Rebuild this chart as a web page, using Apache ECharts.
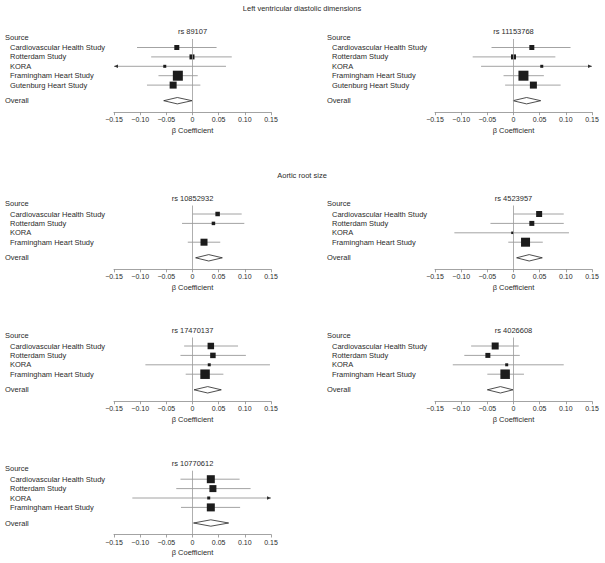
<!DOCTYPE html>
<html>
<head>
<meta charset="utf-8">
<script src="https://cdn.jsdelivr.net/npm/echarts@6/dist/echarts.min.js"></script>
<style>
  html, body { margin: 0; padding: 0; background: #fff; }
  #main { width: 605px; height: 563px; }
</style>
</head>
<body>
<div id="main"></div>
<script>
// studies
var studies5 = ['Cardiovascular Health Study', 'Rotterdam Study', 'KORA', 'Framingham Heart Study', 'Gutenburg Heart Study'];
var studies4 = ['Cardiovascular Health Study', 'Rotterdam Study', 'KORA', 'Framingham Heart Study'];

var sectionTitles = ['Left ventricular diastolic dimensions', 'Aortic root size'];
var snps = ['rs 89107', 'rs 11153768', 'rs 10852932', 'rs 4523957', 'rs 17470137', 'rs 4026608', 'rs 10770612'];

// beta estimates, lower / upper CI, study weight, overall [lo, est, hi]
var est89107 = [-0.030, -0.001, -0.053, -0.028, -0.037];
var lo89107 = [-0.106, -0.079, -0.170, -0.065, -0.087];
var hi89107 = [0.046, 0.075, 0.064, 0.010, 0.015];
var wt89107 = [5, 5, 3, 10, 7];
var all89107 = [-0.055, -0.029, -0.001];

var est11153768 = [0.035, 0.000, 0.054, 0.019, 0.038];
var lo11153768 = [-0.042, -0.078, -0.062, -0.019, -0.016];
var hi11153768 = [0.109, 0.080, 0.170, 0.058, 0.090];
var wt11153768 = [5, 5, 3, 10, 7];
var all11153768 = [-0.001, 0.025, 0.052];

var est10852932 = [0.048, 0.040, null, 0.022];
var lo10852932 = [0.000, -0.020, null, -0.009];
var hi10852932 = [0.094, 0.099, null, 0.053];
var wt10852932 = [4.5, 3.5, 0, 7];
var all10852932 = [0.006, 0.031, 0.057];

var est4523957 = [0.049, 0.035, -0.002, 0.023];
var lo4523957 = [0.000, -0.044, -0.113, -0.010];
var hi4523957 = [0.096, 0.096, 0.106, 0.056];
var wt4523957 = [6, 5, 2.5, 9];
var all4523957 = [0.006, 0.030, 0.055];

var est17470137 = [0.035, 0.039, 0.032, 0.024];
var lo17470137 = [-0.016, -0.023, -0.090, -0.013];
var hi17470137 = [0.087, 0.102, 0.148, 0.059];
var wt17470137 = [6.5, 5.5, 3, 9.5];
var all17470137 = [0.003, 0.029, 0.055];

var est4026608 = [-0.035, -0.049, -0.013, -0.016];
var lo4026608 = [-0.081, -0.094, -0.116, -0.050];
var hi4026608 = [0.010, 0.012, 0.096, 0.020];
var wt4026608 = [7, 5, 3, 9.5];
var all4026608 = [-0.050, -0.025, -0.001];

var est10770612 = [0.035, 0.039, 0.031, 0.035];
var lo10770612 = [-0.023, -0.031, -0.115, -0.022];
var hi10770612 = [0.090, 0.111, 0.170, 0.091];
var wt10770612 = [8, 7, 3, 8];
var all10770612 = [0.002, 0.035, 0.069];

var panels = [
    {names: studies5, est: est89107, lo: lo89107, hi: hi89107, wt: wt89107, all: all89107},
    {names: studies5, est: est11153768, lo: lo11153768, hi: hi11153768, wt: wt11153768, all: all11153768},
    {names: studies4, est: est10852932, lo: lo10852932, hi: hi10852932, wt: wt10852932, all: all10852932},
    {names: studies4, est: est4523957, lo: lo4523957, hi: hi4523957, wt: wt4523957, all: all4523957},
    {names: studies4, est: est17470137, lo: lo17470137, hi: hi17470137, wt: wt17470137, all: all17470137},
    {names: studies4, est: est4026608, lo: lo4026608, hi: hi4026608, wt: wt4026608, all: all4026608},
    {names: studies4, est: est10770612, lo: lo10770612, hi: hi10770612, wt: wt10770612, all: all10770612}
];

var XMIN = -0.15, XMAX = 0.15;

// layout
var colLeft = [114, 435];
var plotW = 157;
var labelX = [5, 327];
var sourceY = [37, 37, 203.5, 203.5, 335.5, 335.5, 468.7];
var sectionY = [8, 175];
var FONT = 'Liberation Sans, Arial, Helvetica, sans-serif';
var TXT = '#2b2b2b';

var myChart = echarts.init(document.getElementById('main'), null, {renderer: 'svg'});

var grids = [], xAxes = [], yAxes = [], series = [];
var titles = sectionTitles.map(function (t, k) {
    return {
        text: t, left: 302, top: sectionY[k] - 4, textAlign: 'center', padding: 0,
        textStyle: {fontSize: 7.5, fontWeight: 'normal', color: TXT, fontFamily: FONT}
    };
});

function tickFmt(v) {
    if (Math.abs(v) < 1e-9) return '0';
    return (v < 0 ? '\u22120.' : '0.') + Math.abs(v).toFixed(2).split('.')[1];
}

function renderStudy(params, api) {
    var est = api.value(0), lo = api.value(1), hi = api.value(2), y = api.value(3), s = api.value(4);
    var p0 = api.coord([Math.max(lo, XMIN), y]);
    var p1 = api.coord([Math.min(hi, XMAX), y]);
    var pc = api.coord([est, y]);
    var kids = [{
        type: 'line',
        shape: {x1: p0[0], y1: p0[1], x2: p1[0], y2: p1[1]},
        style: {stroke: '#8c8c8c', lineWidth: 0.8}
    }, {
        type: 'rect',
        shape: {x: pc[0] - s / 2, y: pc[1] - s / 2, width: s, height: s},
        style: {fill: '#1c1c1c'}
    }];
    if (lo < XMIN) {
        kids.push({type: 'polygon', shape: {points: [[p0[0], p0[1]], [p0[0] + 4, p0[1] - 1.8], [p0[0] + 4, p0[1] + 1.8]]}, style: {fill: '#333'}});
    }
    if (hi > XMAX) {
        kids.push({type: 'polygon', shape: {points: [[p1[0], p1[1]], [p1[0] - 4, p1[1] - 1.8], [p1[0] - 4, p1[1] + 1.8]]}, style: {fill: '#333'}});
    }
    return {type: 'group', children: kids};
}

function renderDiamond(params, api) {
    var y = api.value(3);
    var a = api.coord([api.value(0), y]);
    var c = api.coord([api.value(1), y]);
    var b = api.coord([api.value(2), y]);
    var h = 3.2;
    return {
        type: 'polygon',
        shape: {points: [[a[0], a[1]], [c[0], c[1] - h], [b[0], b[1]], [c[0], c[1] + h]]},
        style: {fill: '#fff', stroke: '#222', lineWidth: 0.8}
    };
}

panels.forEach(function (p, i) {
    var col = i % 2;
    var top = sourceY[i] - 6;
    var rowPos = p.names.map(function (n, k) { return 6 + 10.5 + 9.4 * k; });
    var overallPos = rowPos[rowPos.length - 1] + 15.6;
    var H = overallPos + 11.5;

    var labelAt = {};
    labelAt[(6).toFixed(1)] = '{h|Source}';
    p.names.forEach(function (n, k) { labelAt[rowPos[k].toFixed(1)] = '{s|' + n + '}'; });
    labelAt[overallPos.toFixed(1)] = '{h|Overall}';

    grids.push({left: colLeft[col], top: top, width: plotW, height: H});

    titles.push({
        text: snps[i], left: colLeft[col] + plotW / 2, top: top - 3.5, textAlign: 'center', padding: 0,
        textStyle: {fontSize: 7.5, fontWeight: 'normal', color: TXT, fontFamily: FONT}
    });

    xAxes.push({
        type: 'value', gridIndex: i, min: XMIN, max: XMAX, interval: 0.05,
        name: 'β Coefficient', nameLocation: 'middle', nameGap: 14,
        nameTextStyle: {fontSize: 7.5, color: TXT, fontFamily: FONT},
        axisLine: {onZero: false, lineStyle: {color: '#8c8c8c', width: 0.8}},
        axisTick: {length: 3, lineStyle: {color: '#8c8c8c', width: 0.8}},
        axisLabel: {fontSize: 7, margin: 4, color: TXT, fontFamily: FONT, formatter: tickFmt},
        splitLine: {show: false}
    });

    yAxes.push({
        type: 'value', gridIndex: i, inverse: true, min: 0, max: H,
        axisLine: {show: false}, axisTick: {show: false}, splitLine: {show: false},
        axisLabel: {
            customValues: [6].concat(rowPos, [overallPos]),
            align: 'left', margin: colLeft[col] - labelX[col],
            formatter: function (v) { return labelAt[v.toFixed(1)] || ''; },
            rich: {
                h: {fontSize: 7.5, color: TXT, fontFamily: FONT},
                s: {fontSize: 7.5, color: TXT, fontFamily: FONT, padding: [0, 0, 0, 5]}
            }
        }
    });

    // zero reference line
    series.push({
        type: 'line', xAxisIndex: i, yAxisIndex: i, silent: true, symbol: 'none',
        lineStyle: {color: '#9a9a9a', width: 0.8},
        data: [[0, 8], [0, H]]
    });

    var rows = [];
    p.names.forEach(function (n, k) {
        if (p.est[k] === null) return;
        rows.push([p.est[k], p.lo[k], p.hi[k], rowPos[k], p.wt[k]]);
    });
    series.push({
        type: 'custom', xAxisIndex: i, yAxisIndex: i, silent: true,
        renderItem: renderStudy, encode: {x: [0, 1, 2], y: 3}, data: rows
    });

    series.push({
        type: 'custom', xAxisIndex: i, yAxisIndex: i, silent: true,
        renderItem: renderDiamond, encode: {x: [0, 1, 2], y: 3},
        data: [[p.all[0], p.all[1], p.all[2], overallPos]]
    });
});

myChart.setOption({
    animation: false,
    backgroundColor: '#fff',
    title: titles,
    grid: grids,
    xAxis: xAxes,
    yAxis: yAxes,
    series: series
});
</script>
</body>
</html>
